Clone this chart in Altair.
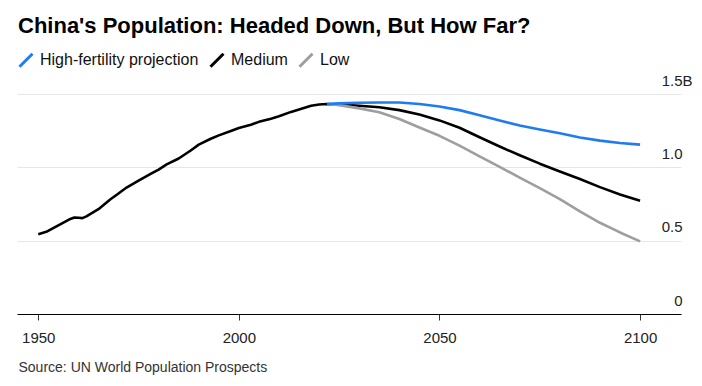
import altair as alt
import pandas as pd

# ---- data (billions) ----
hist_years = [1950, 1952, 1955, 1958, 1959, 1960, 1961, 1962, 1965, 1968, 1970, 1972,
              1975, 1978, 1980, 1982, 1985, 1988, 1990, 1993, 1995, 1998, 2000, 2003,
              2005, 2008, 2010, 2013, 2015, 2018, 2020, 2022]
hist_values = [0.544, 0.560, 0.605, 0.648, 0.658, 0.656, 0.654, 0.666, 0.715, 0.782, 0.822, 0.862,
               0.910, 0.955, 0.985, 1.020, 1.060, 1.115, 1.155, 1.195, 1.218, 1.248, 1.268, 1.290,
               1.310, 1.332, 1.348, 1.378, 1.395, 1.420, 1.428, 1.432]

proj_years = [2022, 2025, 2030, 2035, 2040, 2045, 2050, 2055, 2060, 2065, 2070, 2075,
              2080, 2085, 2090, 2095, 2100]
high_values = [1.432, 1.436, 1.440, 1.442, 1.442, 1.432, 1.415, 1.390, 1.355, 1.320, 1.285, 1.258,
               1.232, 1.203, 1.182, 1.166, 1.155]
medium_values = [1.432, 1.430, 1.420, 1.410, 1.390, 1.360, 1.320, 1.270, 1.205, 1.142, 1.082, 1.025,
                 0.972, 0.920, 0.865, 0.815, 0.772]
low_values = [1.432, 1.424, 1.402, 1.375, 1.330, 1.272, 1.215, 1.148, 1.075, 1.003, 0.930, 0.858,
              0.783, 0.700, 0.622, 0.556, 0.495]

series_names = ["High-fertility projection", "Medium", "Low"]
series_colors = ["#1f7bf2", "#000000", "#9e9e9e"]

x_ticks = [1950, 2000, 2050, 2100]
y_ticks = [0, 0.5, 1.0, 1.5]

rows = []
for yr, v in zip(hist_years, hist_values):
    rows.append({"year": yr, "pop": v, "series": "Medium"})
for yr, v in zip(proj_years[1:], medium_values[1:]):
    rows.append({"year": yr, "pop": v, "series": "Medium"})
for yr, v in zip(proj_years, high_values):
    rows.append({"year": yr, "pop": v, "series": "High-fertility projection"})
for yr, v in zip(proj_years, low_values):
    rows.append({"year": yr, "pop": v, "series": "Low"})
df = pd.DataFrame(rows)

FONT = "Liberation Sans"

x = alt.X(
    "year:Q",
    scale=alt.Scale(domain=[1944.7, 2110.2], nice=False, zero=False),
    title="Source: UN World Population Prospects",
    axis=alt.Axis(
        values=x_ticks, format="d", grid=False,
        domainColor="#000000", domainWidth=1,
        tickColor="#333333", tickSize=6, tickWidth=1,
        labelFont=FONT, labelFontSize=15, labelColor="#222222",
        labelBaseline="alphabetic", labelPadding=22, labelFlush=False,
        titleFont=FONT, titleFontSize=14, titleFontWeight="normal", titleColor="#333333",
        titleAnchor="start", titleAlign="left", titleBaseline="alphabetic",
        titleX=1, titleY=57,
    ),
)

y = alt.Y(
    "pop:Q",
    scale=alt.Scale(domain=[0, 1.5], nice=False),
    title=None,
    axis=alt.Axis(
        orient="right", values=y_ticks, domain=False, ticks=False, tickSize=0,
        grid=True, gridColor="#e6e6e6", gridWidth=1,
        labelFont=FONT, labelFontSize=15, labelColor="#222222",
        labelAlign="right", labelBaseline="alphabetic", labelOffset=-9,
        labelPadding={"condition": {"test": "datum.value == 1.5", "value": 11}, "value": 1},
        labelExpr="datum.value == 0 ? '0' : (datum.value == 1.5 ? '1.5B' : format(datum.value, '.1f'))",
        labelFlush=False,
    ),
)

color = alt.Color(
    "series:N",
    scale=alt.Scale(domain=series_names, range=series_colors),
    legend=alt.Legend(
        title=None, orient="none", direction="horizontal", legendX=1, legendY=-42,
        symbolType="M-1,1L1,-1", symbolSize=169, symbolStrokeWidth=3,
        labelFont=FONT, labelFontSize=16, labelColor="#111111",
        labelOffset=6, columnPadding=5, padding=0,
    ),
)

base = alt.Chart(df).mark_line(strokeWidth=2.6, strokeJoin="round").encode(x=x, y=y, color=color)
layers = [base.transform_filter(alt.datum.series == s) for s in ["Medium", "Low", "High-fertility projection"]]

chart = alt.layer(*layers).properties(
    width=664,
    height=220,
    title=alt.Title(
        "China's Population: Headed Down, But How Far?",
        anchor="start", font=FONT, fontSize=22, fontWeight="bold", color="#000000",
        offset=14, dx=1,
    ),
    autosize=alt.AutoSizeParams(type="none"),
    padding={"left": 9, "top": 86, "right": 13, "bottom": 64},
).configure_view(stroke=None)

chart.save("out.html", embed_options={"renderer": "svg", "actions": False})
